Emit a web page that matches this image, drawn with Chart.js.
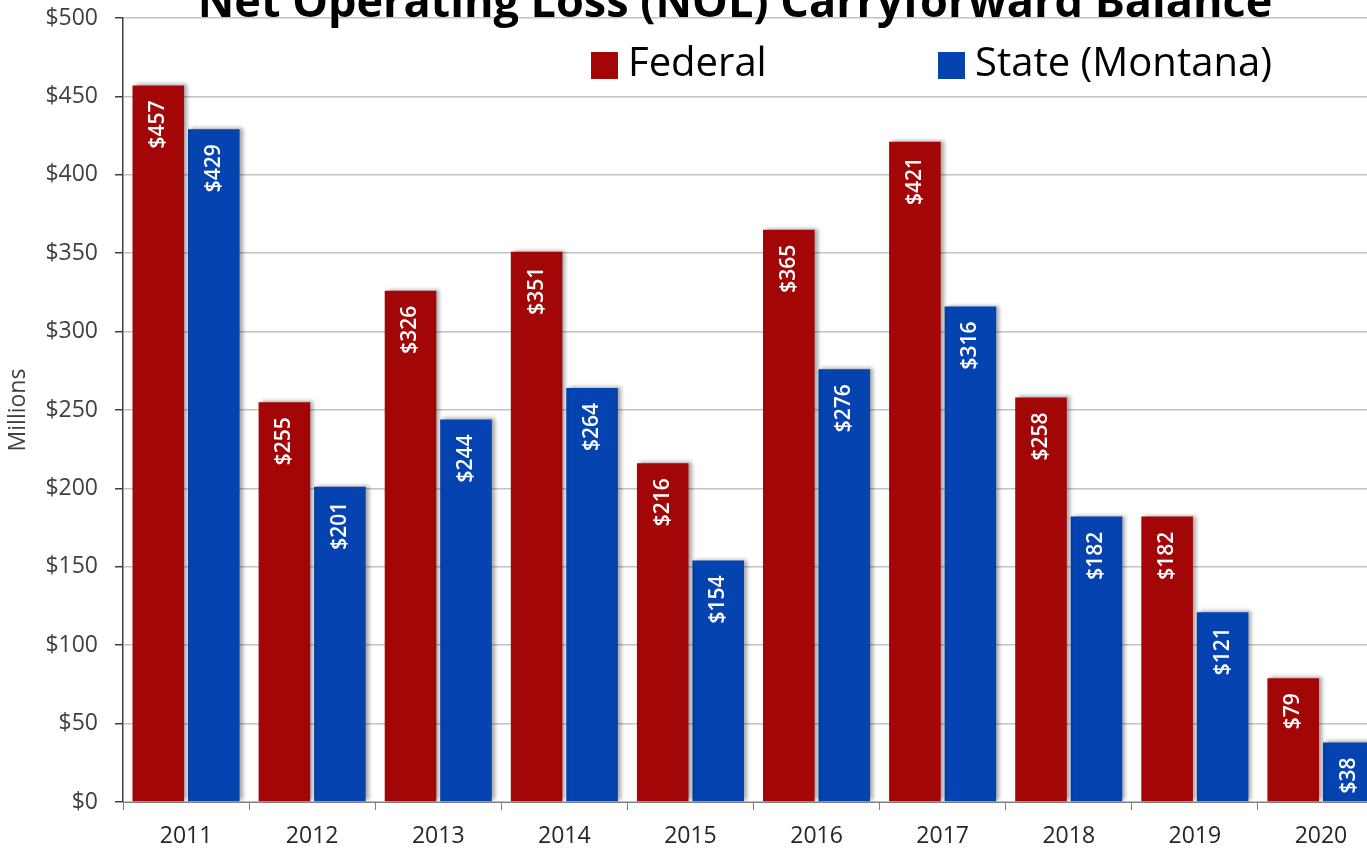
<!DOCTYPE html>
<html>
<head>
<meta charset="utf-8">
<script src="https://cdn.jsdelivr.net/npm/chart.js@4.4.1/dist/chart.umd.min.js"></script>
<style>
  html, body { margin: 0; padding: 0; background: #fff; overflow: hidden; }
  #wrap { position: absolute; left: 0; top: 0; width: 1470px; height: 850px; }
</style>
</head>
<body>
<div id="wrap"><canvas id="nolChart"></canvas></div>
<script>
'use strict';
// ─────────────────────────────────────────────
//  NOL CARRYFORWARD BALANCE
// ─────────────────────────────────────────────

const YEARS = ['2011', '2012', '2013', '2014', '2015', '2016', '2017', '2018', '2019', '2020'];
const FEDERAL = [457, 255, 326, 351, 216, 365, 421, 258, 182, 79];
const STATE_MT = [429, 201, 244, 264, 154, 276, 316, 182, 121, 38];
const Y_TICKS = [0, 50, 100, 150, 200, 250, 300, 350, 400, 450, 500];

const RED = '#a30606';
const BLUE = '#0443b0';
const FONT = '"Open Sans", "Noto Sans", sans-serif';

// soft shadow behind the bars, like the spreadsheet original
const barShadow = {
  id: 'barShadow',
  beforeDatasetsDraw(chart) {
    const c = chart.ctx;
    c.save();
    c.shadowColor = 'rgba(0,0,0,0.35)';
    c.shadowBlur = 4;
    c.shadowOffsetX = 3;
    c.shadowOffsetY = -1;
  },
  afterDatasetsDraw(chart) {
    chart.ctx.restore();
  },
};

// rotated value labels inside the top of each bar
const barLabels = {
  id: 'barLabels',
  afterDatasetsDraw(chart) {
    const c = chart.ctx;
    c.save();
    c.font = '600 21px ' + FONT;
    c.fillStyle = '#ffffff';
    c.textAlign = 'right';
    c.textBaseline = 'middle';
    chart.data.datasets.forEach((ds, i) => {
      chart.getDatasetMeta(i).data.forEach((bar, j) => {
        c.save();
        c.translate(bar.x, bar.y + 15);
        c.rotate(-Math.PI / 2);
        c.fillText('$' + ds.data[j], 0, 0);
        c.restore();
      });
    });
    c.restore();
  },
};

// title (cut by the top edge) and the in-plot legend
const decorations = {
  id: 'decorations',
  afterDraw(chart) {
    const c = chart.ctx;
    const top = chart.chartArea.top;
    c.save();
    c.fillStyle = '#000';
    c.font = 'bold 45px ' + FONT;
    c.textAlign = 'center';
    c.textBaseline = 'alphabetic';
    c.fillText('Net Operating Loss (NOL) Carryforward Balance', 735, top - 1);

    const spots = [591, 938];
    c.font = '40px ' + FONT;
    c.textAlign = 'left';
    c.textBaseline = 'middle';
    chart.data.datasets.forEach((ds, i) => {
      const x = spots[i];
      c.fillStyle = ds.backgroundColor;
      c.fillRect(x, top + 34, 27, 27);
      c.fillStyle = '#000';
      c.fillText(ds.label, x + 37, top + 47);
    });
    c.restore();
  },
};

new Chart(document.getElementById('nolChart'), {
  type: 'bar',
  data: {
    labels: YEARS,
    datasets: [
      { label: 'Federal', data: FEDERAL, backgroundColor: RED },
      { label: 'State (Montana)', data: STATE_MT, backgroundColor: BLUE },
    ],
  },
  options: {
    responsive: true,
    maintainAspectRatio: false,
    animation: false,
    layout: { padding: { top: 18, right: 86, bottom: 0, left: 0 } },
    categoryPercentage: 0.88,
    barPercentage: 0.93,
    plugins: {
      legend: { display: false },
      tooltip: { enabled: false },
    },
    scales: {
      x: {
        afterFit: s => { s.height = 48; },
        grid: {
          drawOnChartArea: false,
          drawTicks: true,
          tickLength: 8,
          tickColor: '#7f7f7f',
        },
        border: { color: '#7f7f7f', width: 1 },
        ticks: {
          color: '#262626',
          font: { family: FONT, size: 23 },
          padding: 13,
        },
      },
      y: {
        min: 0,
        max: 500,
        afterFit: s => {
          s.width = 123;
          s.paddingTop = 0;
          s.paddingBottom = 0;
        },
        afterBuildTicks: s => { s.ticks = Y_TICKS.map(v => ({ value: v })); },
        title: {
          display: true,
          text: 'Millions',
          color: '#404040',
          font: { family: FONT, size: 23 },
          padding: { top: 5, bottom: 0 },
        },
        grid: {
          color: '#c3c3c3',
          lineWidth: 1.5,
          tickLength: 8,
          tickColor: '#404040',
        },
        border: { color: '#404040', width: 1.5 },
        ticks: {
          color: '#404040',
          font: { family: FONT, size: 23 },
          padding: 17,
          callback: v => '$' + v,
        },
      },
    },
  },
  plugins: [barShadow, barLabels, decorations],
});
</script>
</body>
</html>
